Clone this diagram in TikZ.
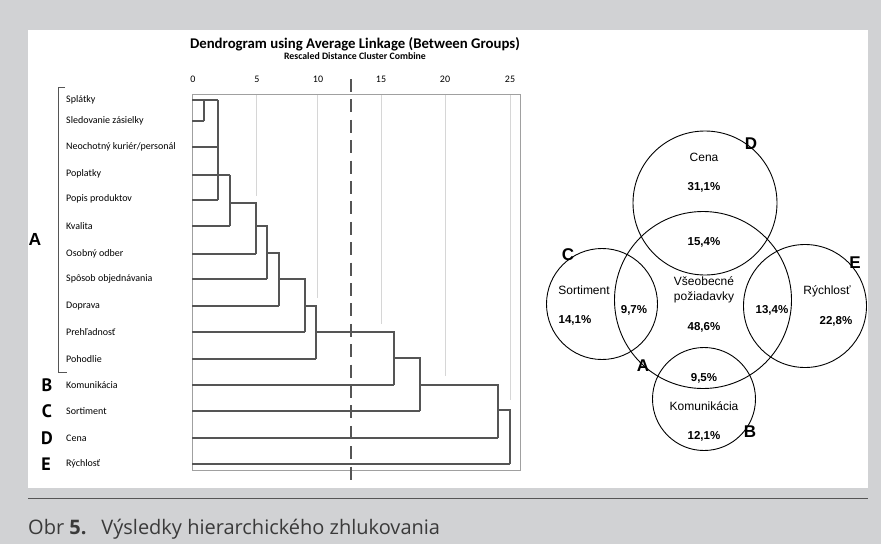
\documentclass[tikz,border=0pt]{standalone}
\usepackage{fontspec}
\setmainfont{Liberation Sans}
\newfontfamily\dendrofont{Carlito}
\newfontfamily\capfont{Open Sans}
\newfontfamily\letfont{PT Sans}
\definecolor{pagegray}{HTML}{D1D2D4}
\definecolor{linegray}{HTML}{555555}
\definecolor{framegray}{HTML}{A0A0A0}
\definecolor{gridgray}{HTML}{D6D6D6}
\definecolor{captext}{HTML}{3A3A3A}
\begin{document}
\begin{tikzpicture}[x=1pt,y=-1pt,
  rowlabel/.style={anchor=west,inner sep=0,font=\dendrofont\fontsize{10}{12}\selectfont},
  ticklabel/.style={inner sep=0,font=\dendrofont\fontsize{10}{12}\selectfont},
  grouplet/.style={inner sep=0,font=\letfont\bfseries\fontsize{18}{20}\selectfont},
  tree/.style={linegray,line width=1.2},
  venncircle/.style={circle,draw=black,line width=0.9,inner sep=0},
  venntext/.style={inner sep=0,font=\fontsize{12}{14}\selectfont},
  vennnum/.style={inner sep=0,font=\bfseries\fontsize{11.5}{14}\selectfont},
  vennlet/.style={inner sep=0,font=\bfseries\fontsize{17}{20}\selectfont}]
% page background and white panel
\fill[pagegray] (0,0) rectangle (881,544);
\useasboundingbox (0,0) rectangle (881,544);
\fill[white] (28,30) rectangle (868,488);
\draw[linegray,line width=0.9] (28,498) -- (868,498);
\node[anchor=base west,inner sep=0,text=captext,font=\capfont\fontsize{20}{24}\selectfont] (caption) at (28,534)
  {Obr \textbf{5.}\hspace{0.4em} Výsledky hierarchického zhlukovania};

% ---------- dendrogram ----------
\node[inner sep=0,font=\dendrofont\bfseries\fontsize{14.8}{17}\selectfont] (title) at (355,44)
  {Dendrogram using Average Linkage (Between Groups)};
\node[inner sep=0,font=\dendrofont\bfseries\fontsize{9.8}{11}\selectfont] (subtitle) at (355,56)
  {Rescaled Distance Cluster Combine};

% scale labels and light grid lines
\foreach \v/\x in {0/193,5/257,10/318,15/381,20/445,25/510}
  \node[ticklabel] (t\v) at (\x,79) {\v};
\foreach \x/\yend in {256/196,317/298,381/324,445/376,510/400}
  \draw[gridgray,line width=0.9] (\x,94) -- (\x,\yend);
\draw[framegray,line width=0.8] (192,94) rectangle (520,470);

% item labels
\foreach \name/\y/\txt in {r1/100/{Splátky}, r2/121/{Sledovanie zásielky},
  r3/147/{Neochotný kuriér/personál}, r4/174/{Poplatky}, r5/199/{Popis produktov},
  r6/226/{Kvalita}, r7/254/{Osobný odber}, r8/279/{Spôsob objednávania},
  r9/306/{Doprava}, r10/332/{Prehľadnosť}, r11/359/{Pohodlie},
  r12/385/{Komunikácia}, r13/411/{Sortiment}, r14/438/{Cena}, r15/464/{Rýchlosť}}
  \node[rowlabel] (\name) at (66,\y) {\txt};

% bracket of group A and group letters
\draw[linegray,line width=0.9] (65,87) -- (58,87) -- (58,372) -- (67,372);
\node[inner sep=0,font=\bfseries\fontsize{17.5}{20}\selectfont] (gA) at (35,239) {A};
\node[grouplet] (gB) at (47,385) {B};
\node[grouplet] (gC) at (47,411) {C};
\node[grouplet] (gD) at (47,438) {D};
\node[grouplet] (gE) at (46,464) {E};

% leaf lines
\foreach \y/\xe in {100/218,121/204,147/218,175/230,200/218,226/230,254/256,279/267,
  306/279,332/305,359/316,385/394,411/420,438/498,464/510}
  \draw[tree] (192,\y) -- (\xe,\y);
% joins
\draw[tree] (204,100) -- (204,121);
\draw[tree] (218,100) -- (218,200);
\draw[tree] (230,175) -- (230,226);
\draw[tree] (230,203) -- (256,203) -- (256,254);
\draw[tree] (256,226) -- (267,226) -- (267,279);
\draw[tree] (267,253) -- (279,253) -- (279,306);
\draw[tree] (279,279) -- (305,279) -- (305,332);
\draw[tree] (305,306) -- (316,306) -- (316,359);
\draw[tree] (316,332) -- (394,332) -- (394,385);
\draw[tree] (394,358) -- (420,358) -- (420,411);
\draw[tree] (420,385) -- (498,385) -- (498,438);
\draw[tree] (498,410) -- (510,410) -- (510,464);

% cut line
\draw[linegray,line width=2.2,dash pattern=on 13 off 7.4] (351,79) -- (351,481);

% ---------- Venn diagram ----------
\node[venncircle,minimum size=144] (cD) at (705,203) {};
\node[venncircle,minimum size=177] (cA) at (703,300) {};
\node[venncircle,minimum size=111] (cC) at (602,304) {};
\node[venncircle,minimum size=123] (cE) at (805,306) {};
\node[venncircle,minimum size=103] (cB) at (704,399) {};

\node[venntext] (nCena) at (704,157) {Cena};
\node[vennnum] (pD) at (704,187) {31,1\%};
\node[vennnum] (pAD) at (704,242) {15,4\%};
\node[venntext,align=center,font=\fontsize{12}{15}\selectfont] (nVse) at (704,290) {Všeobecné\\požiadavky};
\node[vennnum] (pA) at (704,327) {48,6\%};
\node[venntext] (nSort) at (584,290) {Sortiment};
\node[vennnum] (pC) at (575,320) {14,1\%};
\node[vennnum] (pAC) at (634,310) {9,7\%};
\node[vennnum] (pAE) at (772,310) {13,4\%};
\node[venntext] (nRych) at (827,291) {Rýchlosť};
\node[vennnum] (pE) at (836,321) {22,8\%};
\node[vennnum] (pAB) at (704,378) {9,5\%};
\node[venntext] (nKom) at (704,406) {Komunikácia};
\node[vennnum] (pB) at (704,436) {12,1\%};

\node[vennlet] (lD) at (751,144) {D};
\node[vennlet] (lC) at (568,255) {C};
\node[vennlet] (lE) at (855,263) {E};
\node[vennlet] (lA) at (643,366) {A};
\node[vennlet] (lB) at (750,432) {B};
\end{tikzpicture}
\end{document}
